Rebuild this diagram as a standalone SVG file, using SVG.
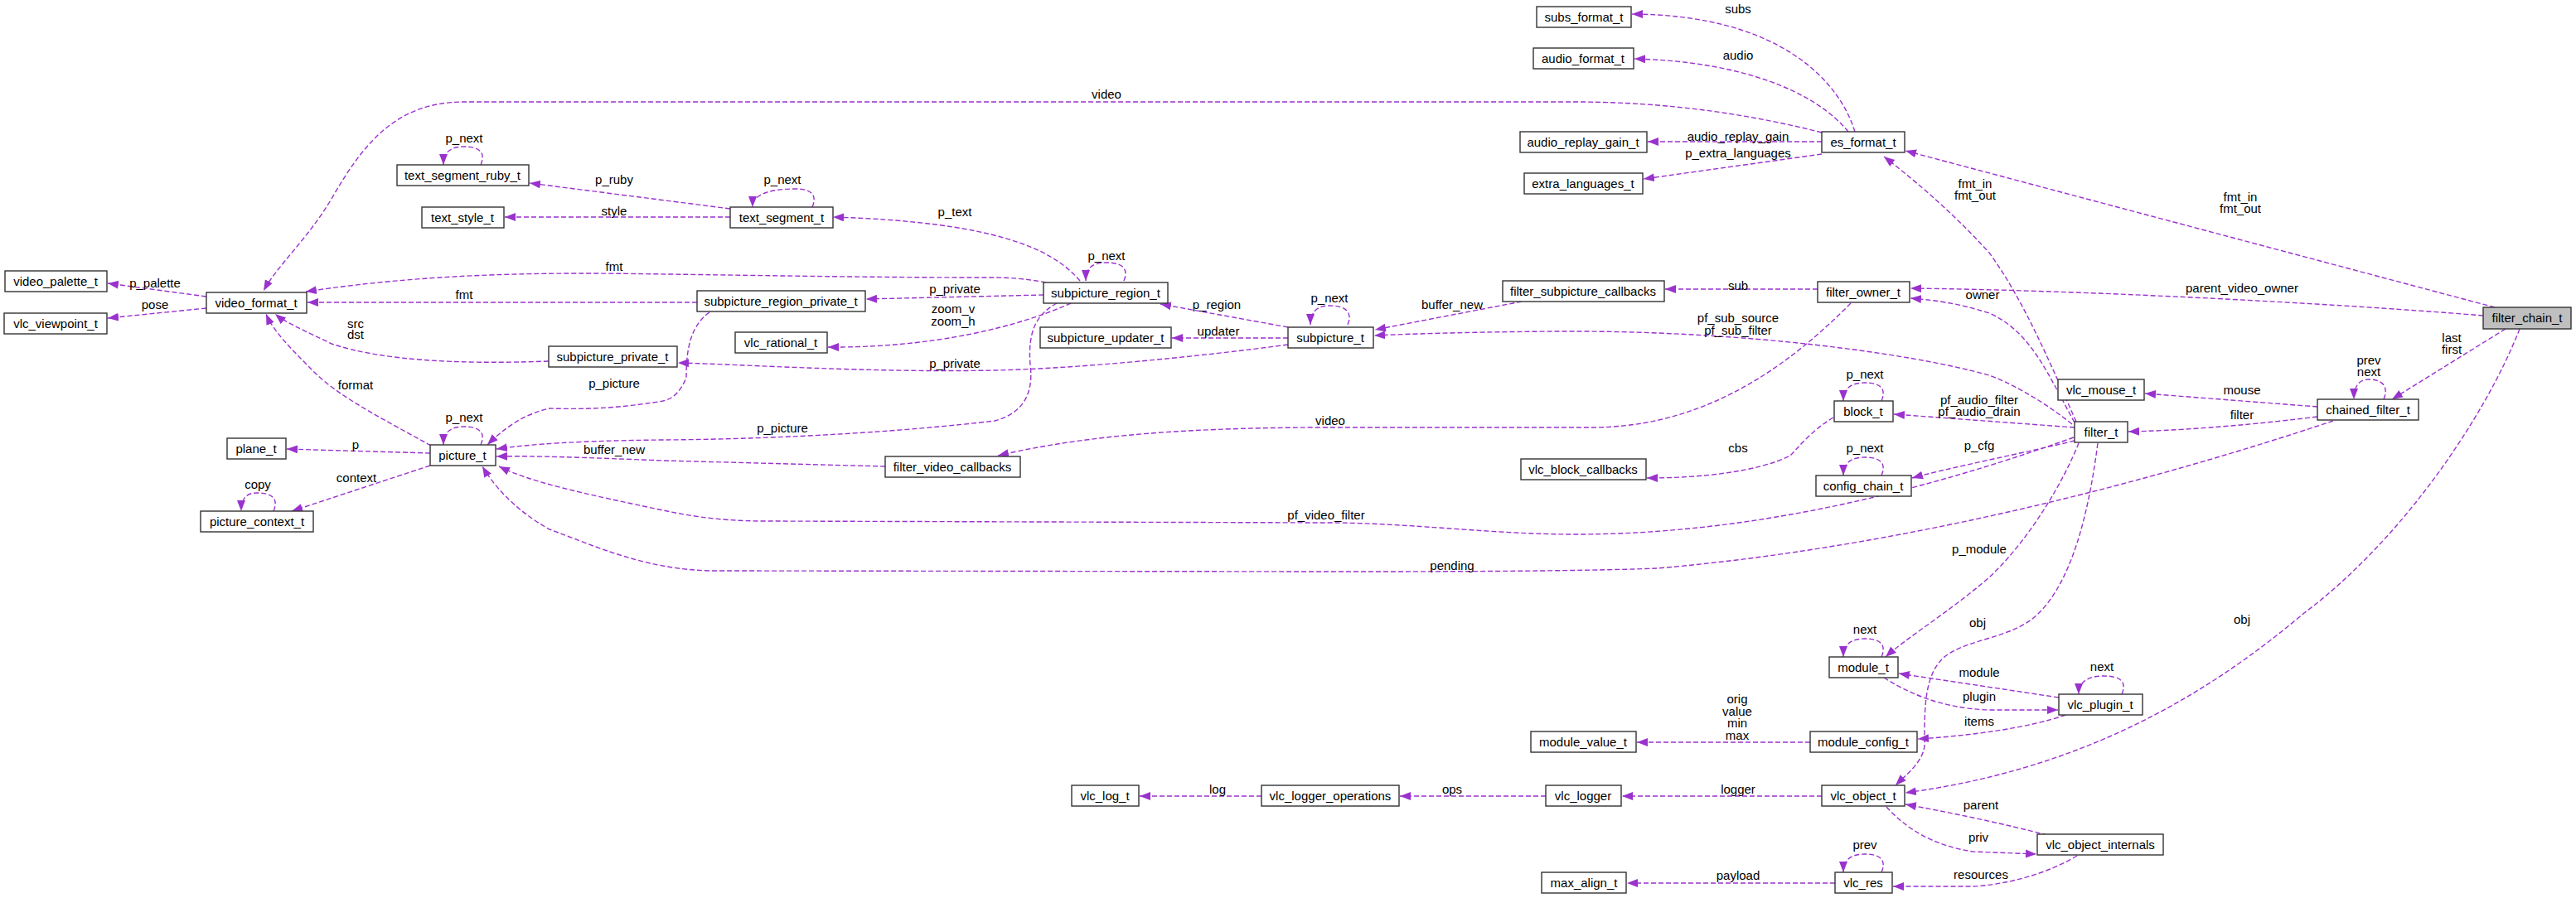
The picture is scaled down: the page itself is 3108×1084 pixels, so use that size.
<svg xmlns="http://www.w3.org/2000/svg" width="3108" height="1084" viewBox="0 0 3108 1084">
<style>
.n rect{fill:#fff;stroke:#333;stroke-width:1.4}
.n text,.l{font-family:"Liberation Sans",Arial,sans-serif;font-size:15px;fill:#000;text-anchor:middle}
.e path{fill:none;stroke:#9a32cd;stroke-width:1.4;stroke-dasharray:6,3;marker-end:url(#a)}
</style>
<defs>
<marker id="a" markerUnits="userSpaceOnUse" markerWidth="14" markerHeight="12" refX="13" refY="5" orient="auto"><path d="M0,0 L13,5 L0,10 z" fill="#9a32cd"/></marker>
</defs>
<rect width="3108" height="1084" fill="#fff"/>
<g id="edges" class="e">
<path d="M2198,160 C2100,135 2000,123 1900,123 L560,123 C480,123 440,170 400,240 C370,290 335,320 318,351"/>
<path d="M2238,159 C2220,100 2150,18 1969,17"/>
<path d="M2230,159 C2190,110 2100,74 1972,71"/>
<path d="M2198,171 L1988,171"/>
<path d="M2198,186 L1983,216"/>
<path d="M3010,371 L2299,182"/>
<path d="M2505,509 C2470,430 2440,360 2400,305 C2350,250 2300,210 2273,189"/>
<path d="M2996,381 C2800,365 2500,350 2305,348"/>
<path d="M2503,510 C2470,450 2450,400 2400,378 C2360,365 2330,362 2305,360"/>
<path d="M2193,349 L2009,349"/>
<path d="M2233,366 C2150,450 2050,516 1920,516 L1600,516 C1400,516 1290,530 1204,550"/>
<path d="M1836,364 L1659,398"/>
<path d="M2500,512 C2460,480 2420,460 2400,453 C2300,425 2100,400 1900,400 C1800,400 1700,403 1658,405"/>
<path d="M1554,395 L1400,367"/>
<path d="M1554,408 L1414,408"/>
<path d="M1554,416 C1450,430 1300,445 1200,447 C1050,450 900,440 818,438"/>
<path d="M1626,392 C1632,378 1625,369 1604,369 C1588,369 1581,378 1581,392"/>
<path d="M1303,339 C1270,300 1200,268 1005,262"/>
<path d="M1356,339 C1362,325 1355,317 1335,317 C1316,317 1310,325 1310,339"/>
<path d="M1259,356 L1045,361"/>
<path d="M1292,366 C1250,385 1150,420 999,419"/>
<path d="M1275,366 C1250,380 1240,400 1243,440 C1248,480 1230,500 1200,508 C1100,520 950,530 800,531 C700,532 640,536 599,542"/>
<path d="M856,377 C830,395 828,430 828,456 C820,475 810,482 800,484 C740,494 700,494 663,493 C630,500 605,520 588,537"/>
<path d="M1068,563 L800,556 C700,552 640,550 599,551"/>
<path d="M2502,528 C2300,600 2100,645 1900,645 C1800,645 1700,631 1600,631 L922,629 C860,629 820,620 800,616 C700,595 640,582 602,563"/>
<path d="M2815,508 C2600,580 2300,660 2000,686 C1900,690 1700,690 1600,690 L860,689 C780,688 720,660 663,639 C620,615 595,585 582,563"/>
<path d="M520,538 C470,510 410,480 380,450 C350,420 330,400 321,379"/>
<path d="M519,547 L346,542"/>
<path d="M519,562 L352,617"/>
<path d="M330,617 C336,603 330,595 310,595 C296,595 291,603 291,617"/>
<path d="M580,537 C586,523 580,515 560,515 C542,515 535,523 535,537"/>
<path d="M249,358 L130,342"/>
<path d="M249,372 L130,384"/>
<path d="M1262,341 C1230,335 1210,335 1190,335 C1000,335 800,330 700,330 C550,330 450,340 369,352"/>
<path d="M841,365 L371,365"/>
<path d="M662,436 C550,440 460,435 400,415 C370,400 345,390 332,379"/>
<path d="M881,252 L639,221"/>
<path d="M881,262 L609,262"/>
<path d="M580,199 C586,185 580,177 560,177 C542,177 535,185 535,199"/>
<path d="M980,250 C986,236 980,228 960,228 C925,228 908,236 908,250"/>
<path d="M2503,516 L2285,500"/>
<path d="M2270,484 C2276,470 2270,462 2250,462 C2232,462 2224,470 2224,484"/>
<path d="M2212,504 C2185,520 2170,540 2160,550 C2120,570 2050,577 1987,577"/>
<path d="M2503,532 C2450,545 2350,565 2307,577"/>
<path d="M2270,574 C2276,560 2270,552 2250,552 C2232,552 2224,560 2224,574"/>
<path d="M2508,535 C2490,580 2450,650 2400,697 C2350,740 2300,770 2275,793"/>
<path d="M2531,535 C2520,620 2500,700 2460,740 C2430,770 2380,770 2350,790 C2320,810 2322,860 2322,900 C2320,920 2300,935 2287,948"/>
<path d="M2796,503 C2700,515 2620,520 2568,521"/>
<path d="M2796,491 L2588,475"/>
<path d="M2876,482 C2882,468 2876,458 2858,458 C2845,458 2840,468 2840,482"/>
<path d="M3023,397 L2886,482"/>
<path d="M3040,397 C3000,500 2900,650 2780,740 C2650,850 2500,930 2299,957"/>
<path d="M2270,793 C2276,779 2270,771 2250,771 C2232,771 2224,779 2224,793"/>
<path d="M2484,842 L2291,813"/>
<path d="M2273,818 C2300,835 2340,855 2400,857 L2483,857"/>
<path d="M2492,863 C2450,878 2380,888 2314,892"/>
<path d="M2560,838 C2566,824 2560,816 2538,816 C2518,816 2508,824 2508,838"/>
<path d="M2184,896 L1975,896"/>
<path d="M2198,961 L1957,961"/>
<path d="M1865,961 L1689,961"/>
<path d="M1522,961 L1375,961"/>
<path d="M2470,1008 C2420,995 2350,980 2299,971"/>
<path d="M2276,974 C2300,1000 2330,1020 2380,1028 L2457,1031"/>
<path d="M2506,1033 C2470,1055 2420,1068 2380,1070 L2284,1070"/>
<path d="M2270,1053 C2276,1039 2270,1031 2250,1031 C2232,1031 2224,1039 2224,1053"/>
<path d="M2214,1066 L1963,1066"/>
</g>
<g id="labels">
<text class="l" x="1335" y="119">video</text>
<text class="l" x="2097" y="16">subs</text>
<text class="l" x="2097" y="72">audio</text>
<text class="l" x="2097" y="170">audio_replay_gain</text>
<text class="l" x="2097" y="190">p_extra_languages</text>
<text class="l" x="2703" y="243">fmt_in</text>
<text class="l" x="2703" y="257">fmt_out</text>
<text class="l" x="2383" y="227">fmt_in</text>
<text class="l" x="2383" y="241">fmt_out</text>
<text class="l" x="2705" y="353">parent_video_owner</text>
<text class="l" x="2392" y="361">owner</text>
<text class="l" x="2097" y="350">sub</text>
<text class="l" x="1605" y="513">video</text>
<text class="l" x="1752" y="373">buffer_new</text>
<text class="l" x="2097" y="389">pf_sub_source</text>
<text class="l" x="2097" y="404">pf_sub_filter</text>
<text class="l" x="1468" y="373">p_region</text>
<text class="l" x="1470" y="405">updater</text>
<text class="l" x="1152" y="444">p_private</text>
<text class="l" x="1604" y="365">p_next</text>
<text class="l" x="1152" y="261">p_text</text>
<text class="l" x="1335" y="314">p_next</text>
<text class="l" x="1152" y="354">p_private</text>
<text class="l" x="1150" y="378">zoom_v</text>
<text class="l" x="1150" y="393">zoom_h</text>
<text class="l" x="944" y="522">p_picture</text>
<text class="l" x="741" y="468">p_picture</text>
<text class="l" x="741" y="548">buffer_new</text>
<text class="l" x="1600" y="627">pf_video_filter</text>
<text class="l" x="1752" y="688">pending</text>
<text class="l" x="429" y="470">format</text>
<text class="l" x="429" y="542">p</text>
<text class="l" x="430" y="582">context</text>
<text class="l" x="311" y="590">copy</text>
<text class="l" x="560" y="509">p_next</text>
<text class="l" x="187" y="347">p_palette</text>
<text class="l" x="187" y="373">pose</text>
<text class="l" x="741" y="327">fmt</text>
<text class="l" x="560" y="361">fmt</text>
<text class="l" x="429" y="396">src</text>
<text class="l" x="429" y="409">dst</text>
<text class="l" x="741" y="222">p_ruby</text>
<text class="l" x="741" y="260">style</text>
<text class="l" x="560" y="172">p_next</text>
<text class="l" x="944" y="222">p_next</text>
<text class="l" x="2388" y="488">pf_audio_filter</text>
<text class="l" x="2388" y="502">pf_audio_drain</text>
<text class="l" x="2250" y="457">p_next</text>
<text class="l" x="2097" y="546">cbs</text>
<text class="l" x="2388" y="543">p_cfg</text>
<text class="l" x="2250" y="546">p_next</text>
<text class="l" x="2388" y="668">p_module</text>
<text class="l" x="2386" y="757">obj</text>
<text class="l" x="2705" y="506">filter</text>
<text class="l" x="2705" y="476">mouse</text>
<text class="l" x="2858" y="440">prev</text>
<text class="l" x="2858" y="454">next</text>
<text class="l" x="2958" y="413">last</text>
<text class="l" x="2958" y="427">first</text>
<text class="l" x="2705" y="753">obj</text>
<text class="l" x="2250" y="765">next</text>
<text class="l" x="2388" y="817">module</text>
<text class="l" x="2388" y="846">plugin</text>
<text class="l" x="2388" y="876">items</text>
<text class="l" x="2536" y="810">next</text>
<text class="l" x="2096" y="849">orig</text>
<text class="l" x="2096" y="864">value</text>
<text class="l" x="2096" y="878">min</text>
<text class="l" x="2096" y="893">max</text>
<text class="l" x="2097" y="958">logger</text>
<text class="l" x="1752" y="958">ops</text>
<text class="l" x="1469" y="958">log</text>
<text class="l" x="2390" y="977">parent</text>
<text class="l" x="2387" y="1016">priv</text>
<text class="l" x="2390" y="1061">resources</text>
<text class="l" x="2250" y="1025">prev</text>
<text class="l" x="2097" y="1062">payload</text>
</g>
<g id="subs_format_t" class="n"><rect x="1854" y="8" width="114" height="25"/><text x="1911" y="26">subs_format_t</text></g>
<g id="audio_format_t" class="n"><rect x="1850" y="58" width="121" height="25"/><text x="1910" y="76">audio_format_t</text></g>
<g id="es_format_t" class="n"><rect x="2198" y="159" width="100" height="25"/><text x="2248" y="177">es_format_t</text></g>
<g id="audio_replay_gain_t" class="n"><rect x="1834" y="159" width="153" height="25"/><text x="1910" y="177">audio_replay_gain_t</text></g>
<g id="extra_languages_t" class="n"><rect x="1839" y="209" width="143" height="25"/><text x="1910" y="227">extra_languages_t</text></g>
<g id="video_format_t" class="n"><rect x="249" y="353" width="121" height="25"/><text x="309" y="371">video_format_t</text></g>
<g id="video_palette_t" class="n"><rect x="6" y="327" width="123" height="25"/><text x="67" y="345">video_palette_t</text></g>
<g id="vlc_viewpoint_t" class="n"><rect x="5" y="378" width="124" height="25"/><text x="67" y="396">vlc_viewpoint_t</text></g>
<g id="text_segment_ruby_t" class="n"><rect x="479" y="199" width="159" height="25"/><text x="558" y="217">text_segment_ruby_t</text></g>
<g id="text_style_t" class="n"><rect x="509" y="250" width="99" height="25"/><text x="558" y="268">text_style_t</text></g>
<g id="text_segment_t" class="n"><rect x="881" y="250" width="124" height="25"/><text x="943" y="268">text_segment_t</text></g>
<g id="subpicture_region_t" class="n"><rect x="1259" y="341" width="150" height="25"/><text x="1334" y="359">subpicture_region_t</text></g>
<g id="subpicture_region_private_t" class="n"><rect x="841" y="351" width="203" height="25"/><text x="942" y="369">subpicture_region_private_t</text></g>
<g id="vlc_rational_t" class="n"><rect x="887" y="401" width="111" height="25"/><text x="942" y="419">vlc_rational_t</text></g>
<g id="subpicture_private_t" class="n"><rect x="662" y="418" width="155" height="25"/><text x="739" y="436">subpicture_private_t</text></g>
<g id="subpicture_updater_t" class="n"><rect x="1255" y="395" width="158" height="25"/><text x="1334" y="413">subpicture_updater_t</text></g>
<g id="subpicture_t" class="n"><rect x="1554" y="395" width="103" height="25"/><text x="1605" y="413">subpicture_t</text></g>
<g id="filter_subpicture_callbacks" class="n"><rect x="1813" y="339" width="195" height="25"/><text x="1910" y="357">filter_subpicture_callbacks</text></g>
<g id="filter_owner_t" class="n"><rect x="2193" y="340" width="111" height="25"/><text x="2248" y="358">filter_owner_t</text></g>
<g id="block_t" class="n"><rect x="2213" y="484" width="71" height="25"/><text x="2248" y="502">block_t</text></g>
<g id="plane_t" class="n"><rect x="274" y="529" width="71" height="25"/><text x="309" y="547">plane_t</text></g>
<g id="picture_t" class="n"><rect x="519" y="537" width="79" height="25"/><text x="558" y="555">picture_t</text></g>
<g id="picture_context_t" class="n"><rect x="242" y="617" width="136" height="25"/><text x="310" y="635">picture_context_t</text></g>
<g id="filter_video_callbacks" class="n"><rect x="1068" y="551" width="163" height="25"/><text x="1149" y="569">filter_video_callbacks</text></g>
<g id="vlc_block_callbacks" class="n"><rect x="1835" y="554" width="151" height="25"/><text x="1910" y="572">vlc_block_callbacks</text></g>
<g id="config_chain_t" class="n"><rect x="2191" y="574" width="115" height="25"/><text x="2248" y="592">config_chain_t</text></g>
<g id="filter_chain_t" class="n"><rect x="2996" y="371" width="106" height="26" style="fill:#bfbfbf"/><text x="3049" y="389">filter_chain_t</text></g>
<g id="vlc_mouse_t" class="n"><rect x="2483" y="458" width="104" height="25"/><text x="2535" y="476">vlc_mouse_t</text></g>
<g id="chained_filter_t" class="n"><rect x="2796" y="482" width="122" height="25"/><text x="2857" y="500">chained_filter_t</text></g>
<g id="filter_t" class="n"><rect x="2503" y="509" width="64" height="25"/><text x="2535" y="527">filter_t</text></g>
<g id="module_t" class="n"><rect x="2207" y="793" width="83" height="25"/><text x="2248" y="811">module_t</text></g>
<g id="vlc_plugin_t" class="n"><rect x="2484" y="838" width="101" height="25"/><text x="2534" y="856">vlc_plugin_t</text></g>
<g id="module_value_t" class="n"><rect x="1847" y="883" width="127" height="25"/><text x="1910" y="901">module_value_t</text></g>
<g id="module_config_t" class="n"><rect x="2184" y="883" width="129" height="25"/><text x="2248" y="901">module_config_t</text></g>
<g id="vlc_log_t" class="n"><rect x="1293" y="948" width="81" height="25"/><text x="1333" y="966">vlc_log_t</text></g>
<g id="vlc_logger_operations" class="n"><rect x="1522" y="948" width="166" height="25"/><text x="1605" y="966">vlc_logger_operations</text></g>
<g id="vlc_logger" class="n"><rect x="1865" y="948" width="91" height="25"/><text x="1910" y="966">vlc_logger</text></g>
<g id="vlc_object_t" class="n"><rect x="2198" y="948" width="100" height="25"/><text x="2248" y="966">vlc_object_t</text></g>
<g id="vlc_object_internals" class="n"><rect x="2458" y="1007" width="152" height="25"/><text x="2534" y="1025">vlc_object_internals</text></g>
<g id="max_align_t" class="n"><rect x="1860" y="1053" width="102" height="25"/><text x="1911" y="1071">max_align_t</text></g>
<g id="vlc_res" class="n"><rect x="2214" y="1053" width="69" height="25"/><text x="2248" y="1071">vlc_res</text></g>
</svg>
